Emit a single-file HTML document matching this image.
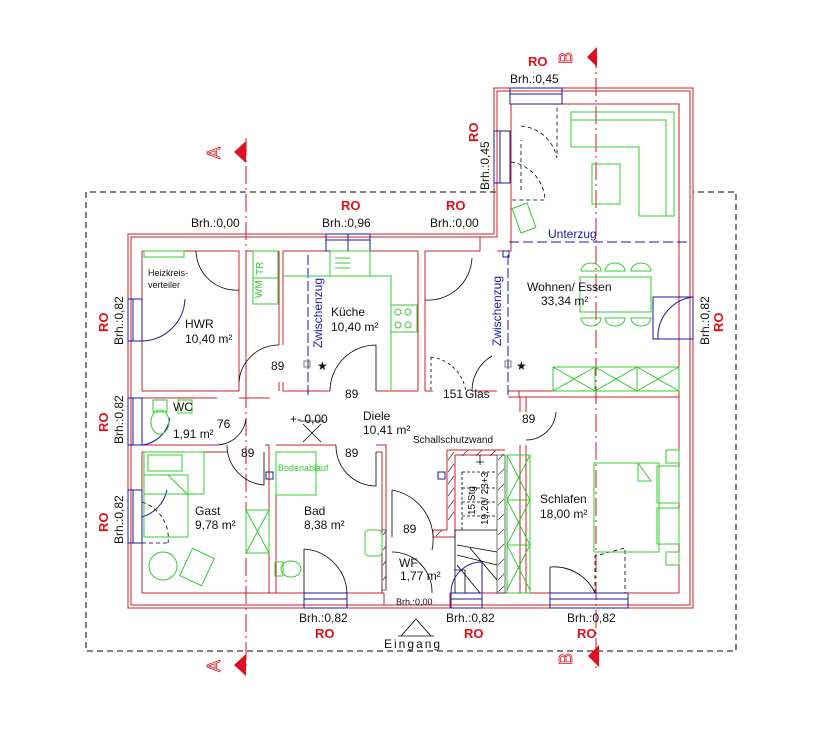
<!DOCTYPE html>
<html><head><meta charset="utf-8"><style>
html,body{margin:0;padding:0;background:#fff}
svg{display:block}
text{font-family:"Liberation Sans",sans-serif;font-size:12px;fill:#111}
.ro{fill:#e0101a;font-weight:bold;font-size:13px}
.b{fill:#1a1ab0}
.g{fill:#33cc33}
.sec{fill:none;stroke:#e01020;stroke-width:0.8;font-size:18px}
</style></head><body>
<svg width="816" height="729" viewBox="0 0 816 729" xmlns="http://www.w3.org/2000/svg">
<!-- dashed outline -->
<path d="M496 192 H86 V651 H736 V192 H693" fill="none" stroke="#000" stroke-dasharray="6,4" stroke-width="1"/>
<!-- section lines -->
<g stroke="#d01020" stroke-width="1" fill="none" stroke-dasharray="18,4,2,4">
<line x1="246" y1="138" x2="246" y2="668"/>
<line x1="596" y1="50" x2="596" y2="668"/>
</g>
<g fill="#e01020">
<polygon points="234,152 246,141 246,163"/>
<polygon points="234,665 246,654 246,676"/>
<polygon points="587,57 597,47 597,67"/>
<polygon points="588,656 599,645 599,667"/>
</g>
<text class="sec" transform="translate(220,159) rotate(-90)">A</text>
<text class="sec" transform="translate(220,672) rotate(-90)">A</text>
<text class="sec" transform="translate(572,64) rotate(-90)">B</text>
<text class="sec" transform="translate(572,665) rotate(-90)">B</text>
<!-- outer walls -->
<g fill="none" stroke="#c8202a" stroke-width="1">
<path d="M128 234 H494 V88 H693 V608 H128 Z"/>
<path d="M131 237 H497 V91 H690 V605 H131 Z"/>
<path d="M142 251 H239 M246 251 H279 M283 251 H418 M425 251 H480 V237 M511 104 H679 V593 M142 251 V391 M142 398 V445 M142 452 V593 H384 M450 593 H520"/>
<path d="M525 593 H679"/>
<path d="M511 104 V251 H497"/>
<path d="M239 251 V391 M246 251 V391"/>
<path d="M279 251 V345 M283 251 V345 M279 382 V391 M283 391 V382"/>
<path d="M418 251 V391 M425 251 V391"/>
<path d="M142 391 H239 M142 398 H217 M239 398 H270"/>
<path d="M283 391 H330 M376 391 H418 M425 391 H433 M472 391 H497"/>
<path d="M508 391 H679 M508 397 H679 M519 391 V397"/>
<path d="M142 445 H217 M142 452 H227"/>
<path d="M265 445 H269 V593 M276 445 H336 M276 452 V593 M269 445 V452"/>
<path d="M376 445 H386 V590 M376 452 H382 V593"/>
<path d="M520 397 V412 M526 397 V412 M520 445 V455 M526 445 V593 M520 455 V593"/>
<path d="M384 593 V605 M450 593 V608"/>
<path d="M447 450 H505 M455 455 H497 M447 450 V530 H433 V537 H455 V455"/>
</g>
<!-- hatch walls -->
<g stroke="#333" stroke-width="0.7">
<path d="M448 460 l6 -8 M448 472 l6 -8 M448 484 l6 -8 M448 496 l6 -8 M448 508 l6 -8 M448 520 l6 -8 M436 536 l6 -6 M462 456 l6 -6 M476 456 l6 -6 M490 456 l6 -6"/>
<path d="M498 460 l6 -6 M498 475 l6 -6 M498 490 l6 -6 M498 505 l6 -6 M498 520 l6 -6 M498 535 l6 -6 M498 550 l6 -6 M498 565 l6 -6 M498 580 l6 -6 M498 592 l6 -6"/>
<path d="M383 535 l3 -4 M383 550 l3 -4 M383 565 l3 -4 M383 580 l3 -4"/>
<rect x="497" y="455" width="8" height="138" fill="none"/>
<rect x="382" y="530" width="4" height="60" fill="none"/>
</g>
<!-- stairs -->
<g stroke="#000" stroke-width="0.8" fill="none">
<path d="M455 593 V530 M455 530 H497"/>
<path d="M457 545 L497 552 M457 555 L497 565 M457 565 L480 593 M470 548 L497 580 M455 570 H465 V593"/>
<path d="M462 472 V530 M462 472 H495 M462 488 H495 M462 502 H495 M462 516 H495" stroke-dasharray="3,2"/>
<path d="M480 455 V465 M476 462 H484"/>
</g>
<!-- windows -->
<g stroke="#1a1aa0" stroke-width="1" fill="none">
<rect x="326" y="234" width="44" height="17"/><line x1="326" y1="240" x2="370" y2="240"/><line x1="348" y1="234" x2="348" y2="251"/>
<rect x="510" y="88" width="52" height="16"/><line x1="510" y1="94" x2="562" y2="94"/>
<rect x="494" y="131" width="16" height="52"/><line x1="500" y1="131" x2="500" y2="183"/>
<rect x="128" y="299" width="14" height="42"/><line x1="133" y1="299" x2="133" y2="341"/>
<rect x="128" y="398" width="14" height="47"/><line x1="133" y1="398" x2="133" y2="445"/>
<rect x="128" y="490" width="14" height="53"/><line x1="133" y1="490" x2="133" y2="543"/>
<rect x="304" y="593" width="43" height="15"/><line x1="304" y1="599" x2="347" y2="599"/>
<rect x="451" y="593" width="31" height="15"/><line x1="451" y1="599" x2="482" y2="599"/>
<rect x="550" y="593" width="78" height="15"/><line x1="550" y1="599" x2="628" y2="599"/>
<rect x="653" y="297" width="40" height="42"/>
<line x1="509" y1="242" x2="690" y2="242" stroke-dasharray="10,4"/>
<line x1="308" y1="255" x2="308" y2="397" stroke-dasharray="10,3"/>
<line x1="508" y1="255" x2="508" y2="397" stroke-dasharray="10,3"/>
<rect x="503" y="251" width="6" height="6"/><rect x="505" y="361" width="6" height="6" stroke="#777"/>
<rect x="304" y="361" width="6" height="6" stroke="#777"/>
<rect x="266" y="472" width="7" height="7"/><rect x="438" y="472" width="7" height="7"/>
<path d="M142 341 A44 44 0 0 0 185 299 M658 339 A40 40 0 0 1 693 297 M142 445 A32 32 0 0 0 170 418 M142 517 A36 36 0 0 0 167 490"/>
<path d="M451 593 A31 31 0 0 1 482 562 V593"/>
</g>
<!-- doors black -->
<g stroke="#000" stroke-width="0.8" fill="none">
<path d="M196 251 A40 40 0 0 0 239 290 M239 382 A40 40 0 0 1 279 345 M330 391 A46 46 0 0 1 376 345 V391 M425 300 A44 44 0 0 0 472 258 M472 391 A40 40 0 0 1 492 356"/>
<path d="M227 445 A40 40 0 0 0 264 485 V452 M336 445 A40 40 0 0 0 376 486 V452 M217 445 A30 30 0 0 0 246 418 M392 490 A50 50 0 0 1 432 550 M392 490 V537 M392 552 A40 40 0 0 1 432 593 M304 549 A46 46 0 0 1 347 593 M304 549 V593 M550 567 A45 45 0 0 1 595 593 M550 567 V593 M526 440 A30 30 0 0 0 556 412"/>
<path d="M431 357 V391 M431 357 A40 40 0 0 1 466 393" stroke-dasharray="3,3"/>
<path d="M521 126 A40 40 0 0 1 557 158 V104 M521 190 V140 M511 162 A40 40 0 0 1 545 200 H511 M595 593 V556 L625 548 V593 M142 543 H168 M142 502 A38 38 0 0 1 168 543" stroke-dasharray="4,3"/>
<path d="M300 421 H324 M303 424 L321 442 M321 424 L303 442"/>
<path d="M398 636 H434 M401 636 L416 619 L431 636"/>
</g>
<!-- green furniture -->
<g stroke="#33cc33" stroke-width="1" fill="none">
<path d="M571 112 H674 V216 H639 V147 H571 Z"/>
<path d="M571 120 H666 V216"/>
<rect x="592" y="164" width="28" height="40"/>
<rect x="516" y="205" width="16" height="26" transform="rotate(-20 524 218)"/>
<rect x="580" y="277" width="71" height="35"/>
<path d="M581 271 A10 8 0 0 1 601 271 Z M605 271 A10 8 0 0 1 625 271 Z M631 271 A10 8 0 0 1 651 271 Z M581 318 A10 8 0 0 0 601 318 Z M605 318 A10 8 0 0 0 625 318 Z M631 318 A10 8 0 0 0 651 318 Z"/>
<rect x="553" y="367" width="126" height="24"/><path d="M553 367 L595 391 M553 391 L595 367 M595 367 L637 391 M595 391 L637 367 M637 367 L679 391 M637 391 L679 367 M595 367 V391 M637 367 V391"/>
<rect x="253" y="251" width="25" height="27"/><rect x="253" y="278" width="25" height="26"/>
<rect x="330" y="251" width="40" height="25"/><path d="M335 258 H350 M335 263 H350 M335 268 H350"/>
<path d="M283 276 H391 V391"/><rect x="391" y="305" width="26" height="27"/>
<circle cx="398" cy="312" r="3"/><circle cx="408" cy="312" r="3"/><circle cx="398" cy="325" r="3"/><circle cx="408" cy="325" r="3"/>
<rect x="144" y="251" width="40" height="6"/>
<rect x="153" y="400" width="14" height="12"/><ellipse cx="160" cy="422" rx="9" ry="12"/><rect x="178" y="400" width="14" height="13"/>
<rect x="144" y="452" width="60" height="42"/><rect x="148" y="455" width="34" height="16"/><rect x="144" y="475" width="44" height="62"/><path d="M168 475 L188 495 V475"/>
<circle cx="163" cy="566" r="14"/><rect x="185" y="552" width="24" height="30" transform="rotate(25 197 567)"/>
<rect x="246" y="510" width="23" height="43"/><path d="M246 510 L269 553 M269 510 L246 553"/>
<rect x="276" y="452" width="40" height="43"/>
<rect x="275" y="562" width="8" height="14"/><ellipse cx="291" cy="569" rx="10" ry="8"/>
<rect x="365" y="530" width="17" height="26" rx="4"/>
<rect x="507" y="455" width="23" height="138"/><path d="M507 455 L530 500 M530 455 L507 500 M507 500 H530 M507 500 L530 545 M530 500 L507 545 M507 545 H530 M507 545 L530 590 M530 545 L507 590"/>
<rect x="594" y="463" width="65" height="89"/><path d="M638 463 V481 L651 481 L638 463"/>
<rect x="657" y="466" width="22" height="37"/><rect x="657" y="508" width="22" height="36"/>
<rect x="666" y="450" width="13" height="13"/><rect x="666" y="552" width="13" height="13"/>
</g>
<!-- labels -->
<text class="ro" x="528" y="66">RO</text>
<text x="510" y="83">Brh.:0,45</text>
<text class="ro" transform="translate(478,142) rotate(-90)">RO</text>
<text transform="translate(489,190) rotate(-90)">Brh.:0,45</text>
<text class="ro" x="341" y="210">RO</text>
<text x="322" y="227">Brh.:0,96</text>
<text x="191" y="227">Brh.:0,00</text>
<text class="ro" x="446" y="210">RO</text>
<text x="430" y="227">Brh.:0,00</text>
<text class="ro" transform="translate(108,332) rotate(-90)">RO</text>
<text transform="translate(123,345) rotate(-90)">Brh.:0,82</text>
<text class="ro" transform="translate(108,432) rotate(-90)">RO</text>
<text transform="translate(123,444) rotate(-90)">Brh.:0,82</text>
<text class="ro" transform="translate(108,532) rotate(-90)">RO</text>
<text transform="translate(123,544) rotate(-90)">Brh.:0,82</text>
<text transform="translate(709,345) rotate(-90)">Brh.:0,82</text>
<text class="ro" transform="translate(723,332) rotate(-90)">RO</text>
<text x="299" y="622">Brh.:0,82</text><text class="ro" x="315" y="638">RO</text>
<text x="396" y="605" style="font-size:9px">Brh.:0,00</text>
<text x="446" y="622">Brh.:0,82</text><text class="ro" x="464" y="638">RO</text>
<text x="567" y="622">Brh.:0,82</text><text class="ro" x="577" y="638">RO</text>
<text x="384" y="648" style="letter-spacing:2px">Eingang</text>
<text x="185" y="328">HWR</text><text x="185" y="343">10,40 m²</text>
<text x="331" y="316">Küche</text><text x="331" y="331">10,40 m²</text>
<text x="527" y="291">Wohnen/ Essen</text><text x="541" y="305">33,34 m²</text>
<text x="363" y="420">Diele</text><text x="363" y="434">10,41 m²</text>
<text x="173" y="411">WC</text><text x="173" y="438">1,91 m²</text>
<text x="195" y="515">Gast</text><text x="195" y="529">9,78 m²</text>
<text x="304" y="515">Bad</text><text x="304" y="529">8,38 m²</text>
<text x="399" y="567">WF</text><text x="400" y="580">1,77 m²</text>
<text x="540" y="503">Schlafen</text><text x="540" y="518">18,00 m²</text>
<text x="413" y="443" style="font-size:10px">Schallschutzwand</text>
<text x="271" y="370">89</text><text x="345" y="398">89</text><text x="241" y="457">89</text>
<text x="345" y="457">89</text><text x="403" y="533">89</text><text x="522" y="423">89</text>
<text x="217" y="428">76</text><text x="443" y="398">151</text><text x="465" y="398">Glas</text>
<text x="290" y="423">+- 0,00</text>
<text x="317" y="370">★</text><text x="516" y="370">★</text>
<text class="b" transform="translate(322,348) rotate(-90)">Zwischenzug</text>
<text class="b" transform="translate(501,346) rotate(-90)">Zwischenzug</text>
<text class="b" x="548" y="238">Unterzug</text>
<text x="148" y="276" style="font-size:9px">Heizkreis-</text><text x="148" y="288" style="font-size:9px">verteiler</text>
<text transform="translate(475,515) rotate(-90)" style="font-size:10px">15 Stg</text>
<text transform="translate(488,525) rotate(-90)" style="font-size:10px">19,20/ 23+3</text>
<text class="g" x="278" y="471" style="font-size:9px">Bodenablauf</text>
<text class="g" x="263" y="275" transform="rotate(-90 263 275)" style="font-size:10px">TR</text>
<text class="g" x="262" y="298" transform="rotate(-90 262 298)" style="font-size:10px">WM</text>
</svg>
</body></html>
